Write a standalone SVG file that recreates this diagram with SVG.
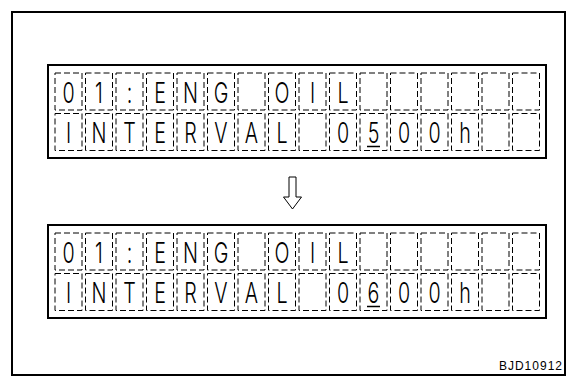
<svg xmlns="http://www.w3.org/2000/svg" width="577" height="387" viewBox="0 0 577 387">
<style>
.frame{fill:none;stroke:#000;stroke-width:2}
.lcd{fill:none;stroke:#000;stroke-width:2}
.cell{fill:none;stroke:#000;stroke-width:1;stroke-dasharray:6 3}
.ch{font-family:Inter,"Liberation Sans",Arial,sans-serif;font-weight:300;font-size:29px;fill:#000;text-anchor:middle}
.ul{stroke:#000;stroke-width:1.5}
.lbl{font-family:"Liberation Sans",Arial,sans-serif;font-size:12px;fill:#000;letter-spacing:1px}
.arrow{fill:#fff;stroke:#000;stroke-width:1}
</style>
<defs>
<g id="row">
<rect class="cell" x="55" y="0" width="27" height="37"/>
<rect class="cell" x="85.5" y="0" width="27" height="37"/>
<rect class="cell" x="116" y="0" width="27" height="37"/>
<rect class="cell" x="146.5" y="0" width="27" height="37"/>
<rect class="cell" x="177" y="0" width="27" height="37"/>
<rect class="cell" x="207.5" y="0" width="27" height="37"/>
<rect class="cell" x="238" y="0" width="27" height="37"/>
<rect class="cell" x="268.5" y="0" width="27" height="37"/>
<rect class="cell" x="299" y="0" width="27" height="37"/>
<rect class="cell" x="329.5" y="0" width="27" height="37"/>
<rect class="cell" x="360" y="0" width="27" height="37"/>
<rect class="cell" x="390.5" y="0" width="27" height="37"/>
<rect class="cell" x="421" y="0" width="27" height="37"/>
<rect class="cell" x="451.5" y="0" width="27" height="37"/>
<rect class="cell" x="482" y="0" width="27" height="37"/>
<rect class="cell" x="512.5" y="0" width="27" height="37"/>
</g>
<g id="line1">
<text class="ch" transform="translate(68.5,29.5) scale(0.68,1)">0</text>
<text class="ch" transform="translate(99,29.5) scale(0.68,1)">1</text>
<text class="ch" transform="translate(129.5,29.5) scale(0.68,1)">:</text>
<text class="ch" transform="translate(160,29.5) scale(0.68,1)">E</text>
<text class="ch" transform="translate(190.5,29.5) scale(0.68,1)">N</text>
<text class="ch" transform="translate(221,29.5) scale(0.68,1)">G</text>
<text class="ch" transform="translate(282,29.5) scale(0.68,1)">O</text>
<text class="ch" transform="translate(312.5,29.5) scale(0.68,1)">I</text>
<text class="ch" transform="translate(343,29.5) scale(0.68,1)">L</text>
</g>
<g id="line2">
<text class="ch" transform="translate(68.5,29.5) scale(0.68,1)">I</text>
<text class="ch" transform="translate(99,29.5) scale(0.68,1)">N</text>
<text class="ch" transform="translate(129.5,29.5) scale(0.68,1)">T</text>
<text class="ch" transform="translate(160,29.5) scale(0.68,1)">E</text>
<text class="ch" transform="translate(190.5,29.5) scale(0.68,1)">R</text>
<text class="ch" transform="translate(221,29.5) scale(0.68,1)">V</text>
<text class="ch" transform="translate(251.5,29.5) scale(0.68,1)">A</text>
<text class="ch" transform="translate(282,29.5) scale(0.68,1)">L</text>
<text class="ch" transform="translate(343,29.5) scale(0.68,1)">0</text>
<text class="ch" transform="translate(404,29.5) scale(0.68,1)">0</text>
<text class="ch" transform="translate(434.5,29.5) scale(0.68,1)">0</text>
<text class="ch" transform="translate(465,29.5) scale(0.68,1)">h</text>
<line class="ul" x1="367" y1="33" x2="380" y2="33"/>
</g>
</defs>
<rect class="frame" x="12" y="12" width="553" height="363"/>
<g id="display-before">
<rect class="lcd" x="48" y="65" width="498" height="93"/>
<use href="#row" y="73"/>
<use href="#row" y="113.5"/>
<use href="#line1" y="73"/>
<use href="#line2" y="113.5"/>
<text class="ch" transform="translate(373.5,143) scale(0.68,1)">5</text>
</g>
<g id="connectors">
<path class="arrow" d="M289,177 H296 V197 H301.5 L292.5,209 L283.5,197 H289 Z"/>
</g>
<g id="display-after">
<rect class="lcd" x="48" y="225" width="498" height="93"/>
<use href="#row" y="233"/>
<use href="#row" y="273.5"/>
<use href="#line1" y="233"/>
<use href="#line2" y="273.5"/>
<text class="ch" transform="translate(373.5,303) scale(0.68,1)">6</text>
</g>
<text class="lbl" x="563" y="370" text-anchor="end">BJD10912</text>
</svg>
